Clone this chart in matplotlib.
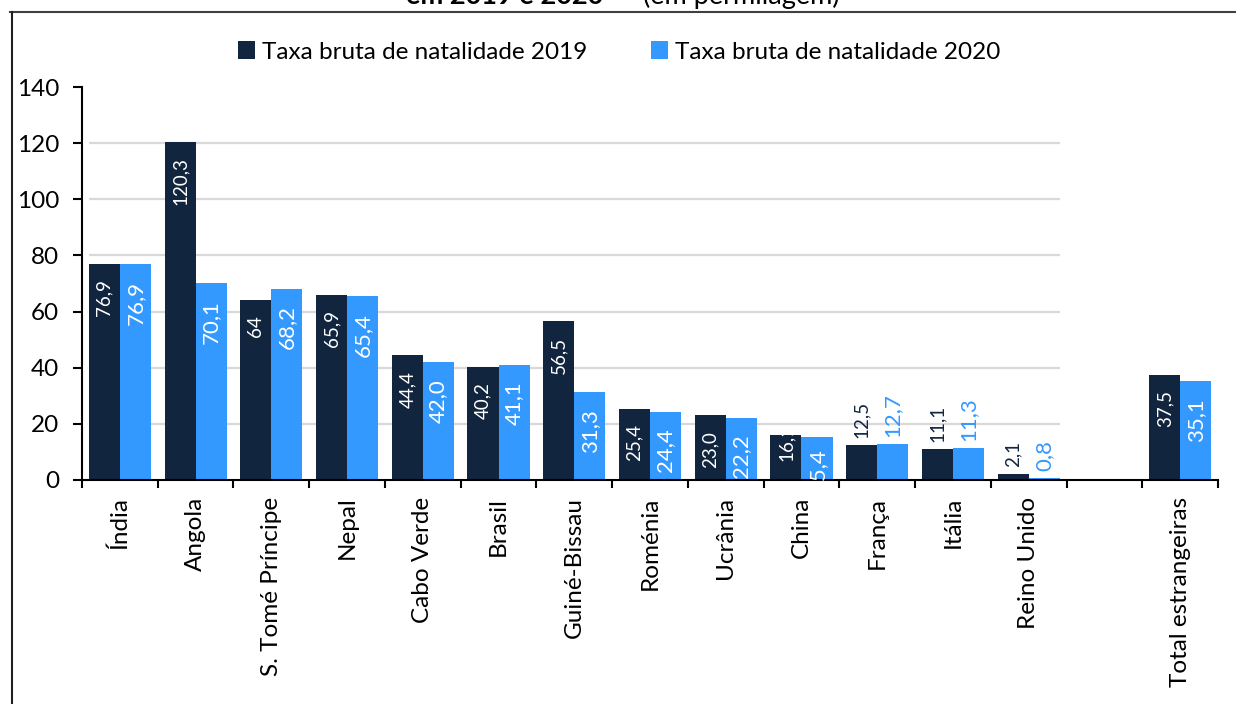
import matplotlib.pyplot as plt
import numpy as np
from matplotlib.lines import Line2D

plt.rcParams['font.family'] = ['Lato', 'DejaVu Sans']

categories = ['Índia', 'Angola', 'S. Tomé Príncipe', 'Nepal', 'Cabo Verde', 'Brasil',
              'Guiné-Bissau', 'Roménia', 'Ucrânia', 'China', 'França', 'Itália',
              'Reino Unido', '', 'Total estrangeiras']
taxa_2019 = [76.9, 120.3, 64.0, 65.9, 44.4, 40.2, 56.5, 25.4, 23.0, 16.1, 12.5, 11.1, 2.1, None, 37.5]
taxa_2020 = [76.9, 70.1, 68.2, 65.4, 42.0, 41.1, 31.3, 24.4, 22.2, 15.4, 12.7, 11.3, 0.8, None, 35.1]
labels_2019 = ['76,9', '120,3', '64', '65,9', '44,4', '40,2', '56,5', '25,4', '23,0', '16,1',
               '12,5', '11,1', '2,1', '', '37,5']
labels_2020 = ['76,9', '70,1', '68,2', '65,4', '42,0', '41,1', '31,3', '24,4', '22,2', '15,4',
               '12,7', '11,3', '0,8', '', '35,1']
yticks = [0, 20, 40, 60, 80, 100, 120, 140]

dark = '#12253f'
blue = '#3399ff'

fig = plt.figure(figsize=(12.36, 7.04), dpi=100, facecolor='w')
ax = fig.add_axes([82 / 1236, 224 / 704, 1136 / 1236, 393 / 704])

x = np.arange(len(categories))
w = 0.41
v19 = np.array([np.nan if v is None else v for v in taxa_2019])
v20 = np.array([np.nan if v is None else v for v in taxa_2020])

# grid only under the country bars
ax.hlines(yticks[1:-1], -w, 12 + w, colors='#d9d9d9', lw=1.6, zorder=0)

ax.bar(x - w / 2, v19, w, color=dark, zorder=2, label='Taxa bruta de natalidade 2019')
ax.bar(x + w / 2, v20, w, color=blue, zorder=2, label='Taxa bruta de natalidade 2020')

# data labels: inside (white) for tall bars, above for short ones
for i in range(len(categories)):
    if np.isnan(v19[i]):
        continue
    for xp, v, txt, fs, col, inside_off in [(x[i] - w / 2, v19[i], labels_2019[i], 13.5, dark, -11),
                                            (x[i] + w / 2, v20[i], labels_2020[i], 16, blue, -12)]:
        if v >= 15:
            off = inside_off
            if categories[i] == 'China':
                off = 8 if col == dark else -8
            ax.annotate(txt, (xp, v), xytext=(0, off), textcoords='offset points',
                        rotation=90, ha='center', va='top', color='white', fontsize=fs, zorder=3)
        else:
            ax.annotate(txt, (xp, v), xytext=(0, 5), textcoords='offset points',
                        rotation=90, ha='center', va='bottom', color=col, fontsize=fs, zorder=3)

ax.set_xlim(-0.5, len(categories) - 0.5)
ax.set_ylim(0, 140)
ax.set_yticks(yticks)
ax.set_xticks(x)
ax.set_xticklabels(categories, rotation=90, fontsize=17.5)
ax.set_xticks(np.arange(-0.5, len(categories)), minor=True)
ax.tick_params(axis='x', which='major', length=0, pad=12)
ax.tick_params(axis='x', which='minor', length=6, width=1.5, color='black')
ax.tick_params(axis='y', length=6.5, width=1.5, labelsize=17.5, pad=10)

for s in ['top', 'right']:
    ax.spines[s].set_visible(False)
for s in ['left', 'bottom']:
    ax.spines[s].set_linewidth(1.5)
    ax.spines[s].set_color('black')

leg = fig.legend(loc='center', bbox_to_anchor=(619 / 1236, 1 - 52 / 704), ncol=2, frameon=False,
                 fontsize=17.5, handlelength=0.7, handleheight=0.7, handletextpad=0.3,
                 columnspacing=2.6)

# cut-off title at the very top
fig.text(603 / 1236, 1 - 4 / 704, 'em 2019 e 2020', ha='right', va='baseline', fontsize=19.5,
         fontweight='bold')
fig.text(643 / 1236, 1 - 4 / 704, '(em permilagem)', ha='left', va='baseline', fontsize=19.5)

# frame around the chart
fig.add_artist(Line2D([10 / 1236, 1], [1 - 11.5 / 704] * 2, color='#404040', lw=1.5))
fig.add_artist(Line2D([11.5 / 1236] * 2, [0, 1 - 11.5 / 704], color='#202020', lw=1.5))

fig.savefig('out.png', dpi=100, facecolor='w')
